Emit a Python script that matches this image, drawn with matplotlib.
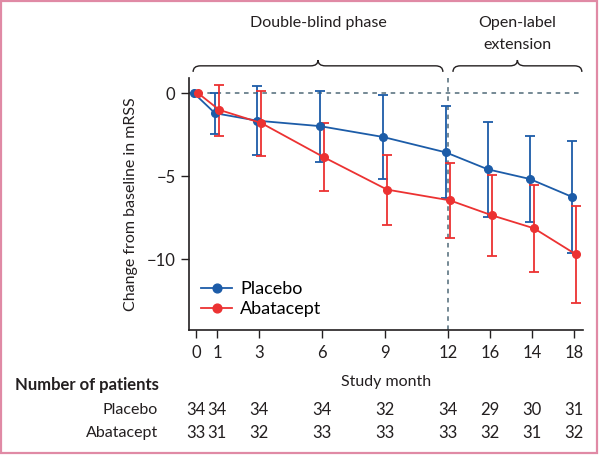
import matplotlib

matplotlib.use("Agg")
import matplotlib.pyplot as plt
from matplotlib.patches import PathPatch, Rectangle
from matplotlib.path import Path
from matplotlib.transforms import blended_transform_factory

plt.rcParams["font.family"] = ["Lato", "DejaVu Sans"]
plt.rcParams["font.size"] = 11

# plot positions (study month scale) and the tick labels printed under them
months = [0, 1, 3, 6, 9, 12, 14, 16, 18]
month_labels = ["0", "1", "3", "6", "9", "12", "16", "14", "18"]

placebo_mean = [0, -1.2, -1.65, -1.98, -2.63, -3.56, -4.58, -5.16, -6.23]
placebo_lo = [0, -2.47, -3.73, -4.14, -5.14, -6.33, -7.43, -7.77, -9.64]
placebo_hi = [0, 0.0, 0.42, 0.16, -0.12, -0.78, -1.73, -2.55, -2.87]

abatacept_mean = [0, -1.0, -1.79, -3.86, -5.8, -6.45, -7.35, -8.13, -9.7]
abatacept_lo = [0, -2.57, -3.77, -5.89, -7.93, -8.7, -9.78, -10.77, -12.63]
abatacept_hi = [0, 0.52, 0.16, -1.79, -3.7, -4.18, -4.94, -5.5, -6.81]

placebo_n = [34, 34, 34, 34, 32, 34, 29, 30, 31]
abatacept_n = [33, 31, 32, 33, 33, 33, 32, 31, 32]

BLUE = "#1c5ca8"
RED = "#ec3232"
GREY = "#4f6a78"
INK = "#231f20"

fig = plt.figure(figsize=(6.0, 4.55), dpi=100)
ax = fig.add_axes([0.3145, 0.2747, 0.657, 0.554])

# pink frame round the whole figure
fig.patches.append(Rectangle((0.002, 0.004), 0.993, 0.993, transform=fig.transFigure,
                             fill=False, edgecolor="#e08aa5", linewidth=1.6))

ax.axhline(0, color=GREY, linestyle=(0, (3, 3)), linewidth=1.1, zorder=0)
ax.axvline(12, color=GREY, linestyle=(0, (3, 3)), linewidth=1.1, zorder=0, clip_on=False)


def draw_series(mean, lo, hi, shift, color, label):
    xs = [m + shift for m in months]
    err = [[m - l for m, l in zip(mean, lo)], [h - m for m, h in zip(mean, hi)]]
    ax.errorbar(xs, mean, yerr=err, errorevery=(1, 1), fmt="none", ecolor=color,
                elinewidth=1.3, capsize=3.5, capthick=1.3, zorder=2)
    ax.plot(xs, mean, "-o", color=color, markersize=5.5, linewidth=1.3, label=label, zorder=3)


draw_series(placebo_mean, placebo_lo, placebo_hi, -0.1, BLUE, "Placebo")
draw_series(abatacept_mean, abatacept_lo, abatacept_hi, 0.1, RED, "Abatacept")

ax.set_xlim(-0.35, 18.43)
ax.set_ylim(-14.25, 0.92)
ax.set_xticks(months)
ax.set_xticklabels(month_labels)
ax.set_yticks([0, -5, -10])
ax.set_yticklabels(["0", "\u22125", "\u221210"])
for side in ("top", "right"):
    ax.spines[side].set_visible(False)
for side in ("left", "bottom"):
    ax.spines[side].set_linewidth(1.2)
    ax.spines[side].set_color(INK)
ax.tick_params(length=6, width=1, colors=INK, labelsize=12)
ax.tick_params(axis="x", pad=5)
ax.set_xlabel("Study month", fontsize=11.5, color=INK, labelpad=10)
ax.set_ylabel("Change from baseline in mRSS", fontsize=11.5, color=INK, labelpad=6)

ax.legend(loc="lower left", bbox_to_anchor=(0.0, 0.0), frameon=False, handlelength=1.7,
          handletextpad=0.45, labelspacing=0.25, fontsize=13, borderaxespad=0.3,
          markerscale=1.15)

# braces over the two study phases (x in data, y in axes fraction)
bt = blended_transform_factory(ax.transData, ax.transAxes)


def brace(x0, x1):
    xm = (x0 + x1) / 2
    yb, yl, yt = 1.024, 1.048, 1.071
    r = 0.35
    verts = [(x0, yb), (x0, yl), (x0 + r, yl), (xm - r, yl), (xm, yl), (xm, yt),
             (xm, yl), (xm + r, yl), (x1 - r, yl), (x1, yl), (x1, yb)]
    codes = [Path.MOVETO, Path.CURVE3, Path.CURVE3, Path.LINETO, Path.CURVE3, Path.CURVE3,
             Path.CURVE3, Path.CURVE3, Path.LINETO, Path.CURVE3, Path.CURVE3]
    ax.add_patch(PathPatch(Path(verts, codes), transform=bt, fill=False, edgecolor=INK,
                           linewidth=1.0, clip_on=False))
    return xm


xa = brace(-0.14, 11.76)
xb = brace(12.24, 18.38)
ax.text(xa, 1.218, "Double-blind phase", transform=bt, ha="center", va="center",
        fontsize=11.5, color=INK)
ax.text(xb, 1.218, "Open-label", transform=bt, ha="center", va="center", fontsize=11.5, color=INK)
ax.text(xb, 1.131, "extension", transform=bt, ha="center", va="center", fontsize=11.5, color=INK)

# number-at-risk table
tt = blended_transform_factory(ax.transData, fig.transFigure)
fig.text(0.025, 0.154, "Number of patients", fontsize=12, fontweight="bold", color=INK,
         va="center", ha="left")
fig.text(0.263, 0.099, "Placebo", fontsize=11.5, color=INK, va="center", ha="right")
fig.text(0.263, 0.048, "Abatacept", fontsize=11.5, color=INK, va="center", ha="right")
for m, pn, an in zip(months, placebo_n, abatacept_n):
    ax.text(m, 0.099, str(pn), transform=tt, ha="center", va="center", fontsize=12, color=INK)
    ax.text(m, 0.048, str(an), transform=tt, ha="center", va="center", fontsize=12, color=INK)

fig.savefig("out.png", dpi=100)
